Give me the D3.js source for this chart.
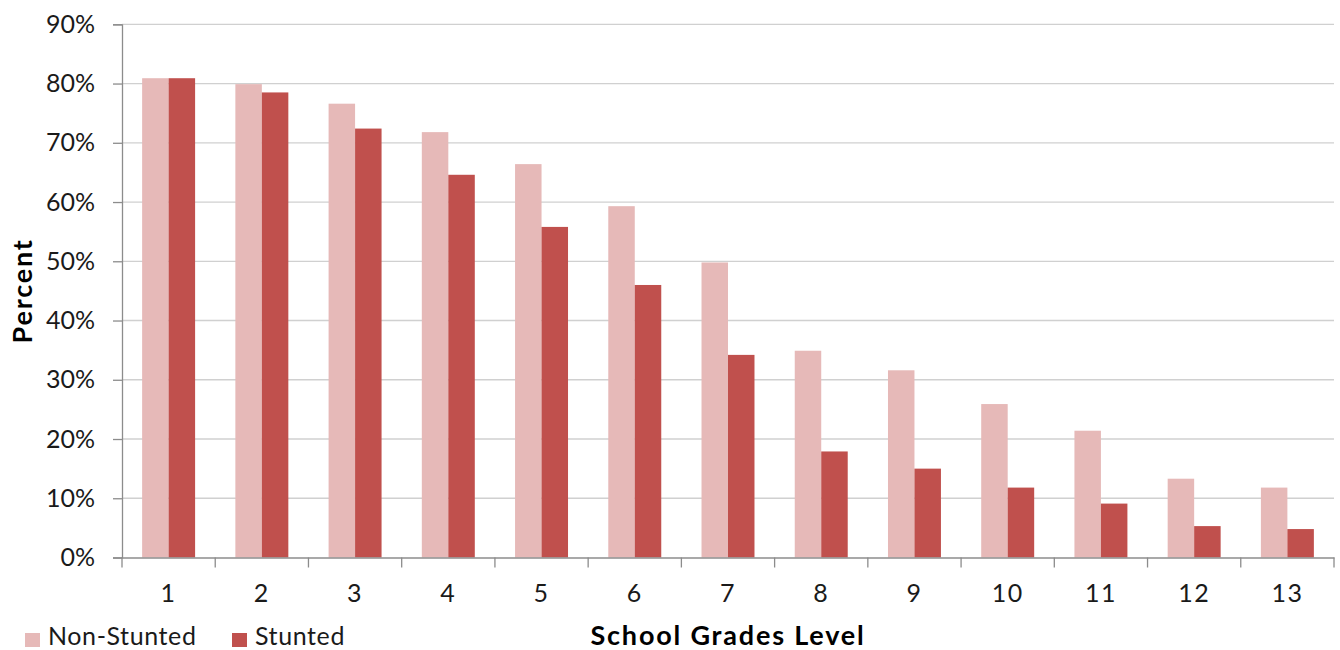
<!DOCTYPE html>
<html>
<head>
<meta charset="utf-8">
<script src="https://cdn.jsdelivr.net/npm/d3@7"></script>
<style>
  html, body { margin: 0; padding: 0; background: #fff; }
  svg { display: block; font-family: Lato, "Open Sans", sans-serif; }
</style>
</head>
<body>
<svg id="chart" width="1340" height="650"></svg>
<script>
// School grade levels on the x axis
const grades = ["1","2","3","4","5","6","7","8","9","10","11","12","13"];
// Percent reaching each grade, by group
const nonStunted = [80.9, 79.9, 76.6, 71.8, 66.4, 59.3, 49.8, 34.9, 31.6, 25.9, 21.4, 13.3, 11.8];
const stunted    = [80.9, 78.5, 72.4, 64.6, 55.8, 46.0, 34.2, 17.9, 15.0, 11.8, 9.1, 5.3, 4.8];
const seriesNames = ["Non-Stunted", "Stunted"];
const seriesColors = ["#E6B9B8", "#C0504D"];
const yTicks = [0, 10, 20, 30, 40, 50, 60, 70, 80, 90];

const svg = d3.select("#chart");
const plotLeft = 122, plotRight = 1334, plotTop = 24.3, plotBottom = 557.5;

const x = d3.scaleBand().domain(grades).range([plotLeft, plotRight]).paddingInner(0).paddingOuter(0);
const inner = d3.scaleBand().domain(seriesNames).range([0, x.bandwidth()]).paddingInner(0)
  .paddingOuter(0.76);
const y = d3.scaleLinear().domain([0, 90]).range([plotBottom, plotTop]);

// horizontal gridlines
svg.append("g").selectAll("line").data(yTicks.filter(d => d > 0)).join("line")
  .attr("x1", plotLeft).attr("x2", plotRight)
  .attr("y1", d => y(d)).attr("y2", d => y(d))
  .attr("stroke", "#D0D0D0").attr("stroke-width", 1.3);

// bars
const seriesData = [nonStunted, stunted];
seriesNames.forEach((name, si) => {
  svg.append("g").selectAll("rect").data(grades).join("rect")
    .attr("x", g => x(g) + inner(name))
    .attr("width", inner.bandwidth())
    .attr("y", (g, i) => y(seriesData[si][i]))
    .attr("height", (g, i) => y(0) - y(seriesData[si][i]))
    .attr("fill", seriesColors[si]);
});

// y axis
const yAxis = svg.append("g").attr("transform", `translate(${plotLeft},0)`)
  .call(d3.axisLeft(y).tickValues(yTicks).tickFormat(d => d + "%").tickSize(9).tickPadding(18));
yAxis.select(".domain").attr("stroke", "#8C8C8C").attr("stroke-width", 1.3);
yAxis.selectAll(".tick line").attr("stroke", "#8C8C8C").attr("stroke-width", 1.3);
yAxis.selectAll(".tick text").attr("font-size", 25).attr("fill", "#1a1a1a")
  .attr("font-family", "Lato, sans-serif");

// x axis with ticks on category boundaries
const xAxis = svg.append("g").attr("transform", `translate(0,${plotBottom})`)
  .call(d3.axisBottom(x).tickSize(0).tickPadding(27));
xAxis.select(".domain").attr("stroke", "#8C8C8C").attr("stroke-width", 1.3);
xAxis.selectAll(".tick text").attr("font-size", 25).attr("fill", "#1a1a1a")
  .attr("font-family", "Lato, sans-serif").attr("letter-spacing", 1.5);
const boundaries = grades.map(g => x(g)).concat([plotRight]);
xAxis.selectAll(".boundary").data(boundaries).join("line").attr("class", "boundary")
  .attr("x1", d => d).attr("x2", d => d).attr("y1", 0).attr("y2", 10)
  .attr("stroke", "#8C8C8C").attr("stroke-width", 1.3);

// axis titles
svg.append("text").attr("x", (plotLeft + plotRight) / 2).attr("y", 645)
  .attr("text-anchor", "middle").attr("font-size", 27).attr("font-weight", "bold")
  .attr("letter-spacing", 1.8).attr("fill", "#000").text("School Grades Level");
svg.append("text").attr("transform", `translate(32,${(plotTop + plotBottom) / 2}) rotate(-90)`)
  .attr("text-anchor", "middle").attr("font-size", 27).attr("font-weight", "bold")
  .attr("letter-spacing", 1.8).attr("fill", "#000").text("Percent");

// legend
const legendX = [25, 232];
seriesNames.forEach((name, i) => {
  const g = svg.append("g").attr("transform", `translate(${legendX[i]},0)`);
  g.append("rect").attr("x", 0).attr("y", 633).attr("width", 15).attr("height", 14)
    .attr("fill", seriesColors[i]);
  g.append("text").attr("x", 23).attr("y", 645).attr("font-size", 25)
    .attr("letter-spacing", 0.6).attr("fill", "#1a1a1a").text(name);
});
</script>
</body>
</html>
